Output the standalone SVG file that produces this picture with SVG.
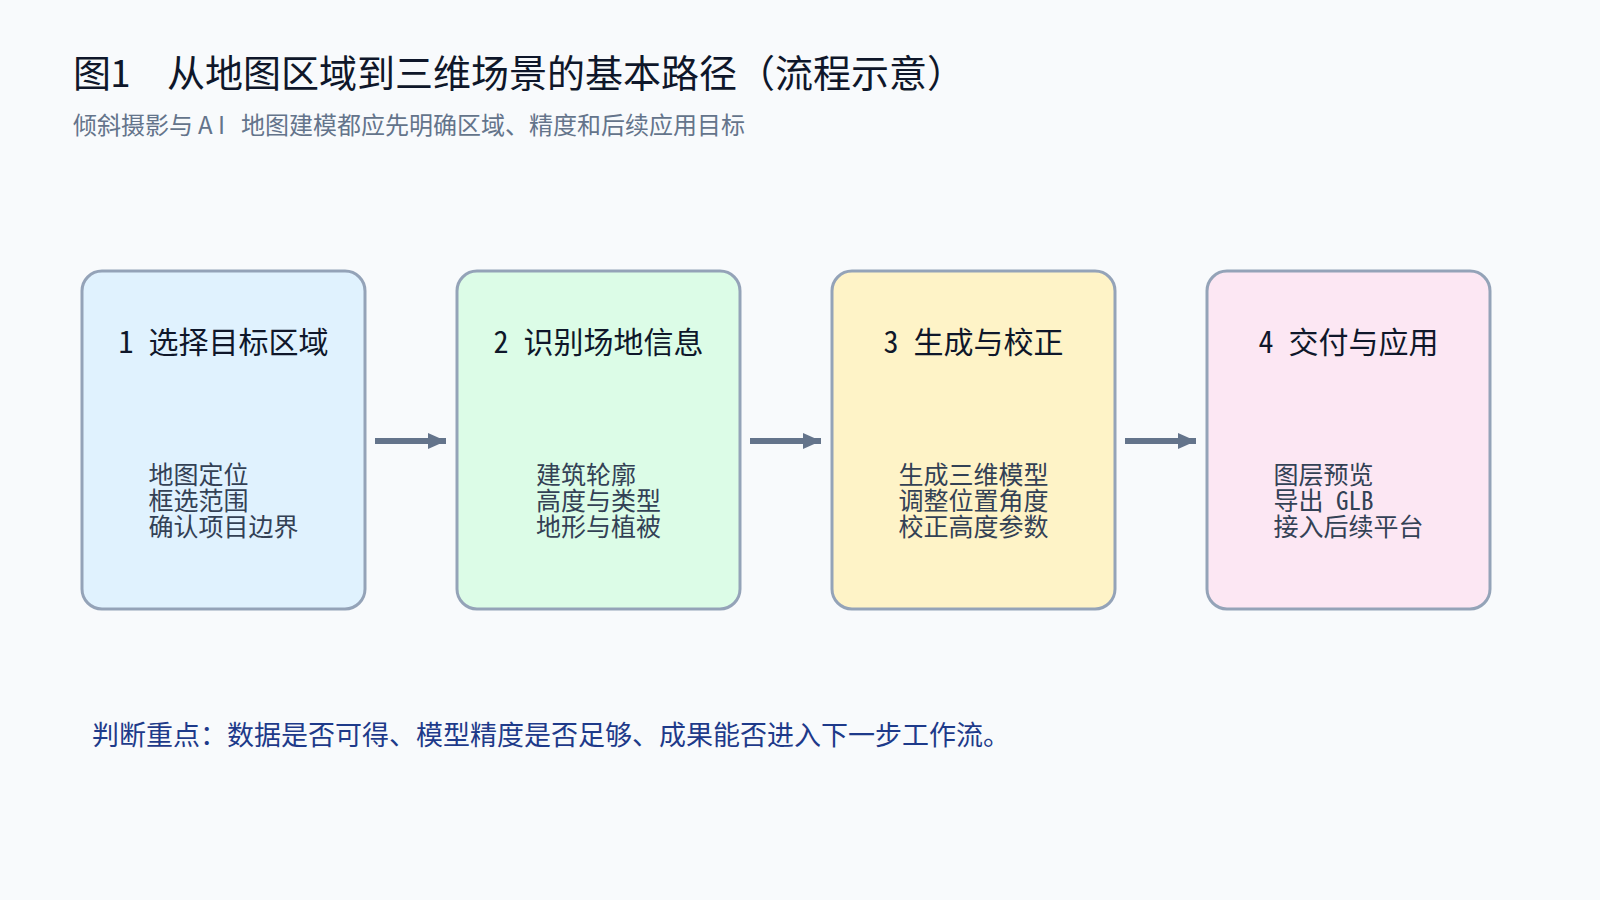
<svg xmlns="http://www.w3.org/2000/svg" width="1600" height="900" viewBox="0 0 1600 900">
  <defs>
    <style>
      .t { font-family: "Noto Sans Mono CJK SC", "Noto Sans CJK SC", "DejaVu Sans Mono", monospace; }
      .lat { font-family: "Noto Sans CJK SC", "Liberation Sans", sans-serif; }
      .title { font-size: 38px; fill: #0f172a; }
      .sub { font-size: 24px; fill: #64748b; }
      .box { stroke: #94a3b8; stroke-width: 3; }
      .head { font-size: 30px; fill: #0f172a; text-anchor: middle; }
      .body { font-size: 25px; fill: #334155; }
      .note { font-size: 27px; fill: #1e3a8a; }
      .conn { stroke: #64748b; stroke-width: 6; fill: none; }
    </style>
    <marker id="ah" viewBox="0 0 18 16" refX="18" refY="8" markerWidth="18" markerHeight="16" markerUnits="userSpaceOnUse" orient="auto">
      <path d="M0,0 L18,8 L0,16 z" fill="#64748b"/>
    </marker>
  </defs>
  <rect x="0" y="0" width="1600" height="900" fill="#f8fafc"/>

  <g id="header">
    <text class="t title" y="87"><tspan x="73">图1</tspan><tspan x="167">从地图区域到三维场景的基本路径（流程示意）</tspan></text>
    <text class="t sub" y="134"><tspan x="73">倾斜摄影与</tspan><tspan class="lat" x="198">A</tspan><tspan class="lat" x="218">I</tspan><tspan x="241">地图建模都应先明确区域、精度和后续应用目标</tspan></text>
  </g>

  <g id="connectors">
    <line class="conn" x1="375" y1="441" x2="446" y2="441" marker-end="url(#ah)"/>
    <line class="conn" x1="750" y1="441" x2="821" y2="441" marker-end="url(#ah)"/>
    <line class="conn" x1="1125" y1="441" x2="1196" y2="441" marker-end="url(#ah)"/>
  </g>

  <g id="node1">
    <rect class="box" x="82" y="271" width="283" height="338" rx="20" fill="#e0f2fe"/>
    <text class="t head" x="223.5" y="353">1 选择目标区域</text>
    <text class="t body" y="484"><tspan x="148.5">地图定位</tspan><tspan x="148.5" dy="26">框选范围</tspan><tspan x="148.5" dy="26">确认项目边界</tspan></text>
  </g>

  <g id="node2">
    <rect class="box" x="457" y="271" width="283" height="338" rx="20" fill="#dcfce7"/>
    <text class="t head" x="598.5" y="353">2 识别场地信息</text>
    <text class="t body" y="484"><tspan x="536">建筑轮廓</tspan><tspan x="536" dy="26">高度与类型</tspan><tspan x="536" dy="26">地形与植被</tspan></text>
  </g>

  <g id="node3">
    <rect class="box" x="832" y="271" width="283" height="338" rx="20" fill="#fef3c7"/>
    <text class="t head" x="973.5" y="353">3 生成与校正</text>
    <text class="t body" y="484"><tspan x="898.5">生成三维模型</tspan><tspan x="898.5" dy="26">调整位置角度</tspan><tspan x="898.5" dy="26">校正高度参数</tspan></text>
  </g>

  <g id="node4">
    <rect class="box" x="1207" y="271" width="283" height="338" rx="20" fill="#fce7f3"/>
    <text class="t head" x="1348.5" y="353">4 交付与应用</text>
    <text class="t body" y="484"><tspan x="1273.5">图层预览</tspan><tspan x="1273.5" dy="26">导出 GLB</tspan><tspan x="1273.5" dy="26">接入后续平台</tspan></text>
  </g>

  <g id="footer">
    <text class="t note" x="92" y="745">判断重点：数据是否可得、模型精度是否足够、成果能否进入下一步工作流。</text>
  </g>
</svg>
